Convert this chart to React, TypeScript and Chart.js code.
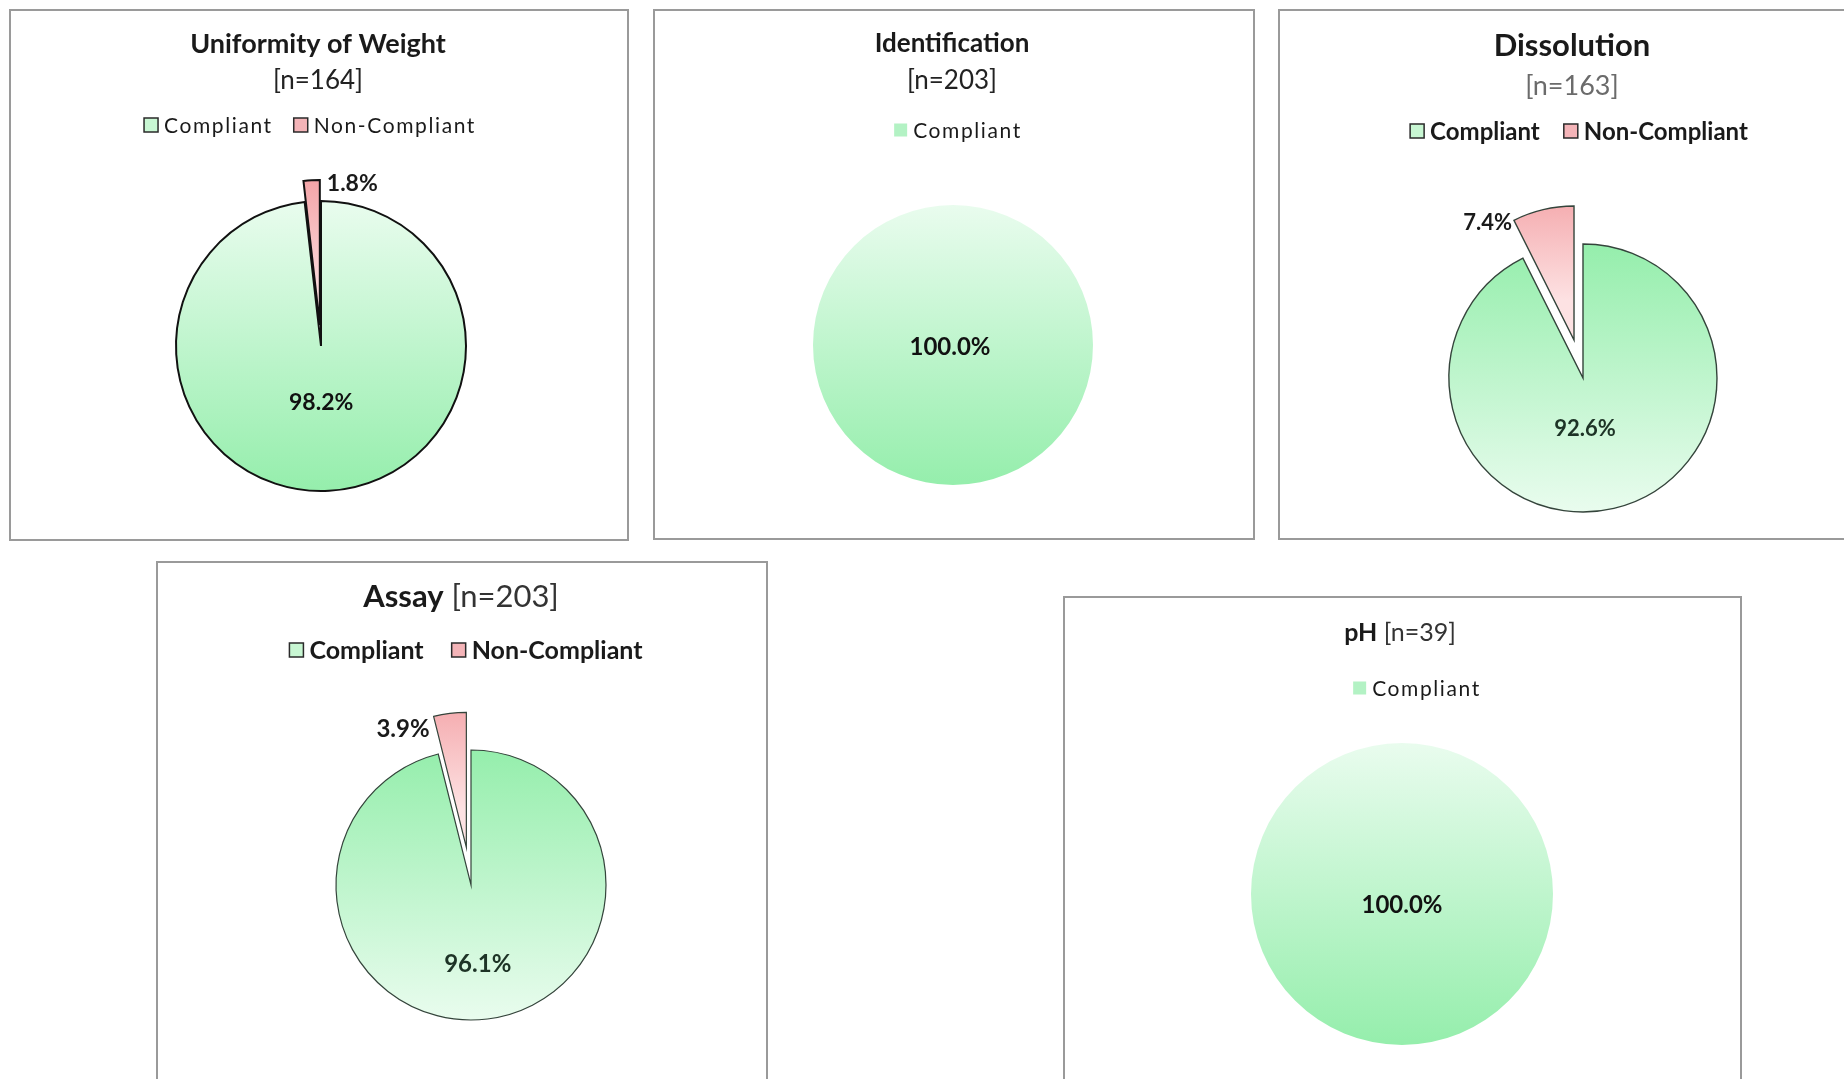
import React, { useEffect, useRef } from "react";
import { Chart, registerables } from "chart.js";

Chart.register(...registerables);

const FONT = "Lato, 'Noto Sans', sans-serif";

// Outcome categories used in every legend
const CATEGORIES = ["Compliant", "Non-Compliant"];

// Test names and number of samples tested
const TESTS = ["Uniformity of Weight", "Identification", "Dissolution", "Assay", "pH"];
const SAMPLE_SIZES = [164, 203, 163, 203, 39];

// Share of samples (%) per outcome, in CATEGORIES order
const UNIFORMITY = [98.2, 1.8];
const IDENTIFICATION = [100.0];
const DISSOLUTION = [92.6, 7.4];
const ASSAY = [96.1, 3.9];
const PH = [100.0];

type Seg = { text: string; bold: boolean; size: number; color?: string };
type Line = { y: number; segs: Seg[] };

interface PanelDef {
  values: number[];
  box: [number, number, number, number];
  center: [number, number];
  radius: number;
  explode: number[];
  titleX: number;
  lines: Line[];
  legend: { x: number; y: number; size: number; bold: boolean; spacing: number; box: number; framed: boolean; gap: number };
  stroke: { color: string; width: number };
  greenOnTop: boolean;
  inner: { ratio: number; size: number; color: string; dy: number; dx: number };
  outer?: { corner: "start" | "end"; align: "left" | "right"; dx: number; dy: number; size: number };
}

const nText = (i: number) => `[n=${SAMPLE_SIZES[i]}]`;

const PANELS: PanelDef[] = [
  {
    values: UNIFORMITY,
    box: [9, 9, 620, 532],
    center: [312, 337],
    radius: 145,
    explode: [0, 21],
    titleX: 309,
    lines: [
      { y: 35, segs: [{ text: TESTS[0], bold: true, size: 27 }] },
      { y: 72, segs: [{ text: nText(0), bold: false, size: 26, color: "#222" }] },
    ],
    legend: { x: 301, y: 116, size: 21, bold: false, spacing: 1.6, box: 14, framed: true, gap: 21 },
    stroke: { color: "#111", width: 2 },
    greenOnTop: false,
    inner: { ratio: 0.39, size: 23, color: "#111", dy: 0, dx: -3 },
    outer: { corner: "end", align: "left", dx: 7, dy: 4, size: 23 },
  },
  {
    values: IDENTIFICATION,
    box: [653, 9, 602, 531],
    center: [300, 336],
    radius: 140,
    explode: [0],
    titleX: 299,
    lines: [
      { y: 35, segs: [{ text: TESTS[1], bold: true, size: 26 }] },
      { y: 72, segs: [{ text: nText(1), bold: false, size: 26, color: "#222" }] },
    ],
    legend: { x: 305, y: 121, size: 21, bold: false, spacing: 1.6, box: 13, framed: false, gap: 21 },
    stroke: { color: "rgba(0,0,0,0)", width: 0 },
    greenOnTop: false,
    inner: { ratio: 0, size: 24, color: "#111", dy: 2, dx: -3 },
  },
  {
    values: DISSOLUTION,
    box: [1278, 9, 580, 531],
    center: [305, 369],
    radius: 134,
    explode: [0, 39],
    titleX: 294,
    lines: [
      { y: 37, segs: [{ text: TESTS[2], bold: true, size: 31 }] },
      { y: 77, segs: [{ text: nText(2), bold: false, size: 27, color: "#6b6b6b" }] },
    ],
    legend: { x: 301, y: 122, size: 24, bold: true, spacing: 0, box: 14, framed: true, gap: 24 },
    stroke: { color: "#34443b", width: 1.4 },
    greenOnTop: true,
    inner: { ratio: 0.39, size: 22, color: "#1d3326", dy: 0, dx: -10 },
    outer: { corner: "start", align: "right", dx: -2, dy: 3, size: 22 },
  },
  {
    values: ASSAY,
    box: [156, 561, 612, 530],
    center: [315, 324],
    radius: 135,
    explode: [0, 38],
    titleX: 305,
    lines: [
      {
        y: 36,
        segs: [
          { text: TESTS[3], bold: true, size: 31 },
          { text: " " + nText(3), bold: false, size: 31, color: "#333" },
        ],
      },
    ],
    legend: { x: 310, y: 89, size: 25, bold: true, spacing: 0, box: 14, framed: true, gap: 28 },
    stroke: { color: "#34443b", width: 1.2 },
    greenOnTop: true,
    inner: { ratio: 0.59, size: 24, color: "#1d3326", dy: 0, dx: -3 },
    outer: { corner: "start", align: "right", dx: -4, dy: 13, size: 24 },
  },
  {
    values: PH,
    box: [1063, 596, 679, 500],
    center: [339, 298],
    radius: 151,
    explode: [0],
    titleX: 337,
    lines: [
      {
        y: 37,
        segs: [
          { text: TESTS[4], bold: true, size: 25 },
          { text: " " + nText(4), bold: false, size: 25, color: "#333" },
        ],
      },
    ],
    legend: { x: 354, y: 92, size: 21, bold: false, spacing: 1.6, box: 13, framed: false, gap: 21 },
    stroke: { color: "rgba(0,0,0,0)", width: 0 },
    greenOnTop: false,
    inner: { ratio: 0, size: 24, color: "#111", dy: 11, dx: 0 },
  },
];

const GREEN_LIGHT = "#e9fcee";
const GREEN_STRONG = "#95eeac";
const RED_STRONG = "#f29a9e";
const RED_LIGHT = "#fde2e3";
const LEGEND_FILL_FRAMED = ["#c8f7d3", "#f4b4b8"];
const LEGEND_FILL_PLAIN = ["#b3f2c4", "#f4b4b8"];

const fontOf = (size: number, bold: boolean) => `${bold ? "bold " : ""}${size}px ${FONT}`;

function drawRichLine(ctx: CanvasRenderingContext2D, segs: Seg[], cx: number, cy: number) {
  const widths = segs.map((s) => {
    ctx.font = fontOf(s.size, s.bold);
    return ctx.measureText(s.text).width;
  });
  const total = widths.reduce((a, b) => a + b, 0);
  let x = cx - total / 2;
  segs.forEach((s, i) => {
    ctx.font = fontOf(s.size, s.bold);
    ctx.fillStyle = s.color || "#1a1a1a";
    ctx.textAlign = "left";
    ctx.textBaseline = "middle";
    ctx.fillText(s.text, x, cy);
    x += widths[i];
  });
}

function makePanelPlugin(def: PanelDef) {
  return {
    id: "panelText",
    // Draw the library's arc elements, shifting exploded slices outward along their mid-angle
    beforeDatasetsDraw(chart: any) {
      const ctx: CanvasRenderingContext2D = chart.ctx;
      const meta = chart.getDatasetMeta(0);
      meta.data.forEach((arc: any, i: number) => {
        const e = def.explode[i] || 0;
        const { startAngle, endAngle } = arc.getProps(["startAngle", "endAngle"], true);
        const half = (startAngle + endAngle) / 2;
        ctx.save();
        ctx.translate(Math.cos(half) * e, Math.sin(half) * e);
        arc.draw(ctx, chart.chartArea);
        ctx.restore();
      });
      return false;
    },
    afterDraw(chart: any) {
      const ctx: CanvasRenderingContext2D = chart.ctx;
      ctx.save();

      // Title lines
      def.lines.forEach((ln) => drawRichLine(ctx, ln.segs, def.titleX, ln.y));

      // Legend
      const L = def.legend;
      const labels: string[] = chart.data.labels;
      const fills = L.framed ? LEGEND_FILL_FRAMED : LEGEND_FILL_PLAIN;
      ctx.font = fontOf(L.size, L.bold);
      (ctx as any).letterSpacing = `${L.spacing}px`;
      const gapBox = 6;
      const widths = labels.map((l) => ctx.measureText(l).width);
      const total = widths.reduce((a, w) => a + L.box + gapBox + w, 0) + L.gap * (labels.length - 1);
      let x = L.x - total / 2;
      labels.forEach((l, i) => {
        const by = L.y - L.box / 2;
        ctx.fillStyle = fills[i];
        ctx.fillRect(x, by, L.box, L.box);
        if (L.framed) {
          ctx.strokeStyle = "#2a2a2a";
          ctx.lineWidth = 1.5;
          ctx.strokeRect(x, by, L.box, L.box);
        }
        ctx.fillStyle = "#1a1a1a";
        ctx.textAlign = "left";
        ctx.textBaseline = "middle";
        ctx.fillText(l, x + L.box + gapBox, L.y + 1);
        x += L.box + gapBox + widths[i] + L.gap;
      });
      (ctx as any).letterSpacing = "0px";

      // Percentage labels
      const meta = chart.getDatasetMeta(0);
      const values: number[] = chart.data.datasets[0].data;
      meta.data.forEach((arc: any, i: number) => {
        const p = arc.getProps(["x", "y", "startAngle", "endAngle", "outerRadius"], true);
        const e = def.explode[i] || 0;
        const half = (p.startAngle + p.endAngle) / 2;
        const ex = Math.cos(half) * e;
        const ey = Math.sin(half) * e;
        const text = `${values[i].toFixed(1)}%`;
        ctx.textBaseline = "middle";
        if (i === 0 || !def.outer) {
          const r = p.outerRadius * def.inner.ratio;
          ctx.font = fontOf(def.inner.size, true);
          ctx.fillStyle = def.inner.color;
          ctx.textAlign = "center";
          ctx.fillText(text, p.x + ex + Math.cos(half) * r + def.inner.dx, p.y + ey + Math.sin(half) * r + def.inner.dy);
        } else {
          const o = def.outer;
          const a = o.corner === "start" ? p.startAngle : p.endAngle;
          ctx.font = fontOf(o.size, true);
          ctx.fillStyle = "#1a1a1a";
          ctx.textAlign = o.align;
          ctx.fillText(text, p.x + ex + Math.cos(a) * p.outerRadius + o.dx, p.y + ey + Math.sin(a) * p.outerRadius + o.dy);
        }
      });
      ctx.restore();
    },
  };
}

function PiePanel({ def }: { def: PanelDef }) {
  const ref = useRef<HTMLCanvasElement>(null);
  const [left, top, w, h] = def.box;

  useEffect(() => {
    const canvas = ref.current;
    if (!canvas) return;
    const [cx, cy] = def.center;
    const s = Math.min(cx, w - cx, cy, h - cy);
    const maxExplode = Math.max(...def.explode);
    const r = def.radius;

    const chart = new Chart(canvas, {
      type: "pie",
      data: {
        labels: CATEGORIES.slice(0, def.values.length),
        datasets: [
          {
            data: def.values,
            backgroundColor: (c: any) => {
              const area = c.chart.chartArea;
              if (!area) return c.dataIndex === 0 ? GREEN_STRONG : RED_STRONG;
              const mid = (area.top + area.bottom) / 2;
              const g2 = c.chart.ctx as CanvasRenderingContext2D;
              if (c.dataIndex === 0) {
                const g = g2.createLinearGradient(0, mid - r, 0, mid + r);
                g.addColorStop(0, def.greenOnTop ? GREEN_STRONG : GREEN_LIGHT);
                g.addColorStop(1, def.greenOnTop ? GREEN_LIGHT : GREEN_STRONG);
                return g;
              }
              const g = g2.createLinearGradient(0, mid - r - maxExplode, 0, mid - maxExplode);
              g.addColorStop(0, RED_STRONG);
              g.addColorStop(1, RED_LIGHT);
              return g;
            },
            borderColor: def.stroke.color,
            borderWidth: def.stroke.width,
            borderJoinStyle: "miter",
            borderAlign: "center",
          } as any,
        ],
      },
      options: {
        responsive: false,
        maintainAspectRatio: false,
        animation: false,
        events: [],
        radius: r,
        layout: { padding: { left: cx - s, right: w - cx - s, top: cy - s, bottom: h - cy - s } },
        plugins: {
          legend: { display: false },
          title: { display: false },
          tooltip: { enabled: false },
        },
      } as any,
      plugins: [makePanelPlugin(def) as any],
    });
    return () => chart.destroy();
  }, [def, w, h]);

  return (
    <div style={{ position: "absolute", left, top, width: w, height: h, background: "#fff" }}>
      <canvas ref={ref} width={w} height={h} style={{ display: "block" }} />
      <div
        style={{
          position: "absolute",
          inset: 0,
          border: "2px solid #9a9a9a",
          pointerEvents: "none",
        }}
      />
    </div>
  );
}

export default function App() {
  return (
    <div
      style={{
        position: "fixed",
        left: 0,
        top: 0,
        width: 1844,
        height: 1079,
        background: "#fff",
        overflow: "hidden",
        fontFamily: FONT,
      }}
    >
      {PANELS.map((def, i) => (
        <PiePanel key={i} def={def} />
      ))}
    </div>
  );
}
